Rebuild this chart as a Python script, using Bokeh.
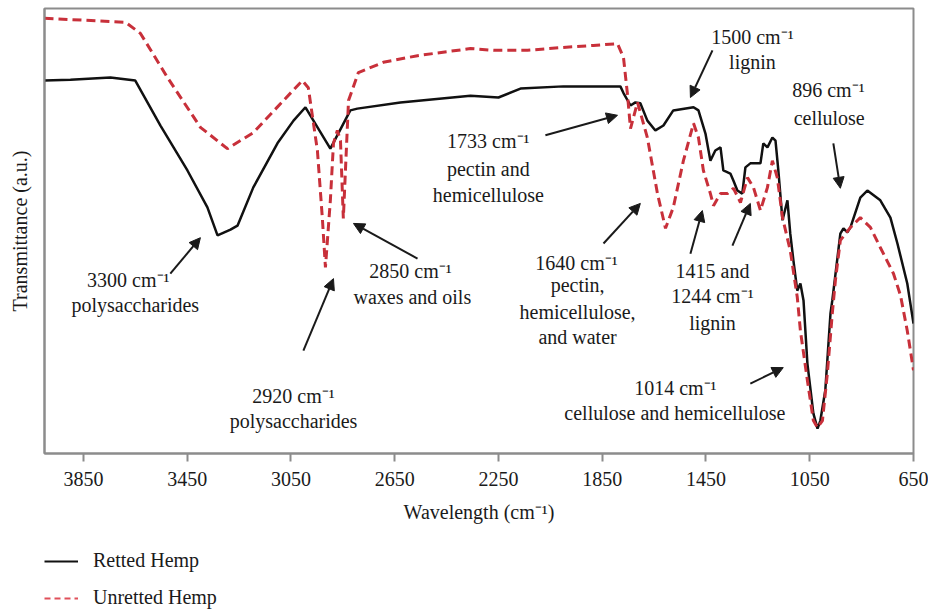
from bokeh.plotting import figure
from bokeh.layouts import column
from bokeh.models import (Range1d, Arrow, NormalHead, Legend, LegendItem,
                          FixedTicker, ColumnDataSource)
from bokeh.core.properties import value
from bokeh.embed import file_html
from bokeh.resources import INLINE

# ---- data (wavenumber cm^-1, transmittance a.u.) ----
retted_wn = [4000, 3900, 3746, 3650, 3553, 3449, 3372, 3333, 3283, 3256, 3195, 3102,
             3040, 2994, 2898, 2821, 2794, 2628, 2358, 2250, 2165, 2000, 1780, 1768,
             1741, 1722, 1703, 1676, 1645, 1614, 1576, 1498, 1479, 1452, 1433, 1414,
             1394, 1383, 1356, 1344, 1329, 1310, 1298, 1279, 1240, 1229, 1213, 1194,
             1182, 1171, 1155, 1136, 1125, 1113, 1098, 1086, 1074, 1059, 1036, 1020,
             1009, 990, 970, 963, 932, 920, 905, 893, 855, 828, 778, 739, 712, 674, 650]
retted_t = [83.8, 84.0, 84.5, 83.8, 73.7, 63.6, 55.3, 49.0, 50.3, 51.2, 59.8, 69.7,
            74.8, 77.8, 68.5, 77.1, 77.5, 78.9, 80.4, 80.0, 82.0, 82.5, 82.5, 81.0,
            78.2, 78.9, 78.7, 74.8, 72.6, 73.7, 77.1, 77.8, 77.1, 71.9, 65.8, 68.1,
            68.8, 63.6, 62.9, 61.3, 59.1, 58.4, 64.3, 65.2, 65.2, 69.7, 68.8, 71.0,
            70.3, 63.6, 52.4, 56.9, 49.4, 43.4, 36.6, 38.2, 34.4, 20.2, 9.0, 5.6,
            7.4, 14.2, 31.5, 34.4, 49.4, 50.6, 49.7, 50.8, 57.5, 59.1, 56.9, 53.0, 47.2, 38.2, 29.2]

unretted_wn = [4000, 3688, 3630, 3526, 3399, 3295, 3195, 3079, 3006, 2983, 2948, 2929,
               2917, 2898, 2886, 2871, 2859, 2848, 2828, 2790, 2694, 2562, 2358, 2269,
               2138, 2011, 1884, 1791, 1768, 1753, 1741, 1714, 1676, 1637, 1606, 1576,
               1537, 1498, 1479, 1460, 1433, 1421, 1394, 1367, 1344, 1317, 1290, 1267,
               1240, 1213, 1194, 1175, 1155, 1125, 1098, 1086, 1059, 1036, 1020, 1001,
               982, 963, 951, 932, 912, 893, 855, 816, 778, 727, 700, 674, 650]
unretted_t = [97.8, 96.9, 94.4, 84.5, 73.3, 68.5, 72.1, 79.3, 83.8, 82.2, 68.1, 53.0,
              41.8, 56.9, 69.7, 72.6, 70.3, 52.8, 79.3, 85.6, 87.9, 89.4, 91.0, 90.6,
              90.6, 91.2, 91.7, 92.1, 89.0, 80.9, 73.0, 78.9, 71.0, 58.4, 50.6, 55.3,
              65.8, 74.2, 71.0, 63.6, 58.4, 55.7, 58.4, 58.4, 59.6, 56.4, 62.0, 59.8,
              54.6, 59.8, 65.8, 62.0, 53.0, 45.6, 35.1, 27.6, 16.4, 7.4, 5.8, 7.4,
              18.0, 31.5, 38.9, 47.9, 49.4, 50.8, 53.0, 50.8, 46.3, 40.4, 35.5, 27.6, 18.7]

x_ticks = [3850, 3450, 3050, 2650, 2250, 1850, 1450, 1050, 650]
series_names = ["Retted Hemp", "Unretted Hemp"]

# ---- annotations ----
label_text = ["3300 cm⁻¹", "polysaccharides",
              "2920 cm⁻¹", "polysaccharides",
              "2850 cm⁻¹", "waxes and oils",
              "1733 cm⁻¹", "pectin and", "hemicellulose",
              "1500 cm⁻¹", "lignin",
              "896 cm⁻¹", "cellulose",
              "1640 cm⁻¹", "pectin,", "hemicellulose,", "and water",
              "1415 and", "1244 cm⁻¹", "lignin",
              "1014 cm⁻¹", "cellulose and hemicellulose"]
label_wn = [3677, 3650,
            3040, 3040,
            2589, 2582,
            2289, 2289, 2289,
            1271, 1271,
            978, 975,
            1949, 1945, 1945, 1945,
            1425, 1425, 1425,
            1568, 1570]
label_t = [38.9, 33.3,
           13.0, 7.4,
           41.1, 35.1,
           70.3, 64.0, 58.0,
           93.5, 87.9,
           81.6, 75.5,
           42.9, 37.8, 31.7, 26.1,
           41.1, 35.5, 29.4,
           14.8, 9.2]

arrow_tail_wn = [3515, 3002, 2562, 2069, 1425, 959, 1845, 1510, 1348, 1279]
arrow_tail_t = [40.4, 23.1, 43.8, 71.5, 90.6, 69.7, 47.2, 44.9, 46.7, 15.7]
arrow_head_wn = [3399, 2886, 2809, 1791, 1510, 932, 1703, 1464, 1279, 1152]
arrow_head_t = [48.5, 39.3, 51.7, 76.0, 80.0, 59.6, 56.2, 54.6, 56.2, 19.3]

FONT = "Liberation Serif"
FS = "20px"
GRAY = "#8c8c8c"
TXT = "#1a1a1a"

p = figure(width=928, height=540, output_backend="svg", toolbar_location=None,
           x_range=Range1d(4000, 650), y_range=Range1d(0, 100),
           min_border_left=44, min_border_right=15, min_border_top=8, min_border_bottom=87)

p.xgrid.visible = False
p.ygrid.visible = False
p.outline_line_color = GRAY
p.outline_line_width = 2
p.background_fill_color = "white"
p.border_fill_color = "white"

p.line(retted_wn, retted_t, line_color="#111111", line_width=2.5)
p.line(unretted_wn, unretted_t, line_color="#c8303a", line_width=3, line_dash="9 5")

src = ColumnDataSource(dict(x=label_wn, y=label_t, text=label_text))
p.text(x="x", y="y", text="text", source=src, text_font=value(FONT), text_font_size=FS,
       text_align="center", text_baseline="middle", text_color=TXT)

asrc = ColumnDataSource(dict(x0=arrow_tail_wn, y0=arrow_tail_t, x1=arrow_head_wn, y1=arrow_head_t))
p.add_layout(Arrow(x_start="x0", y_start="y0", x_end="x1", y_end="y1", source=asrc,
                   line_color=TXT, line_width=2,
                   end=NormalHead(size=11, fill_color=TXT, line_color=TXT)))

xa = p.xaxis[0]
xa.ticker = FixedTicker(ticks=x_ticks)
xa.axis_label = "Wavelength (cm⁻¹)"
xa.axis_line_color = GRAY
xa.axis_line_width = 2
xa.major_tick_line_color = GRAY
xa.major_tick_line_width = 2
xa.major_tick_out = 8
xa.major_tick_in = 0
xa.minor_tick_line_color = None
xa.major_label_text_font = FONT
xa.major_label_text_font_size = FS
xa.major_label_text_color = TXT
xa.major_label_standoff = 10
xa.axis_label_text_font = FONT
xa.axis_label_text_font_size = FS
xa.axis_label_text_font_style = "normal"
xa.axis_label_text_color = TXT
xa.axis_label_standoff = 12

ya = p.yaxis[0]
ya.ticker = FixedTicker(ticks=[])
ya.axis_label = "Transmittance (a.u.)"
ya.axis_line_color = GRAY
ya.axis_line_width = 2
ya.major_tick_line_color = None
ya.minor_tick_line_color = None
ya.major_label_text_font_size = "0px"
ya.axis_label_text_font = FONT
ya.axis_label_text_font_size = FS
ya.axis_label_text_font_style = "normal"
ya.axis_label_text_color = TXT
ya.axis_label_standoff = 14

# ---- legend in a small companion figure below ----
pl = figure(width=928, height=69, output_backend="svg", toolbar_location=None,
            x_range=Range1d(0, 1), y_range=Range1d(0, 1),
            min_border_left=0, min_border_right=0, min_border_top=0, min_border_bottom=0)
pl.axis.visible = False
pl.xgrid.visible = False
pl.ygrid.visible = False
pl.outline_line_color = None
pl.border_fill_color = "white"
pl.background_fill_color = "white"
# legend swatches: renderers whose points lie outside the visible range
l1 = pl.line([5, 6], [5, 6], line_color="#111111", line_width=2)
l2 = pl.line([5, 6], [5, 6], line_color="#e0505a", line_width=2, line_dash="6 4")
legend = Legend(items=[LegendItem(label=series_names[0], renderers=[l1]),
                       LegendItem(label=series_names[1], renderers=[l2])],
                location=(0, 0), orientation="vertical",
                label_text_font=FONT, label_text_font_size=FS, label_text_color=TXT,
                glyph_width=34, glyph_height=20, label_standoff=15, label_height=20,
                spacing=14, padding=0, margin=0,
                border_line_color=None, background_fill_alpha=0)
pl.add_layout(legend, "center")

layout = column(p, pl, spacing=0)
open("out.html", "w").write(file_html(layout, INLINE))
